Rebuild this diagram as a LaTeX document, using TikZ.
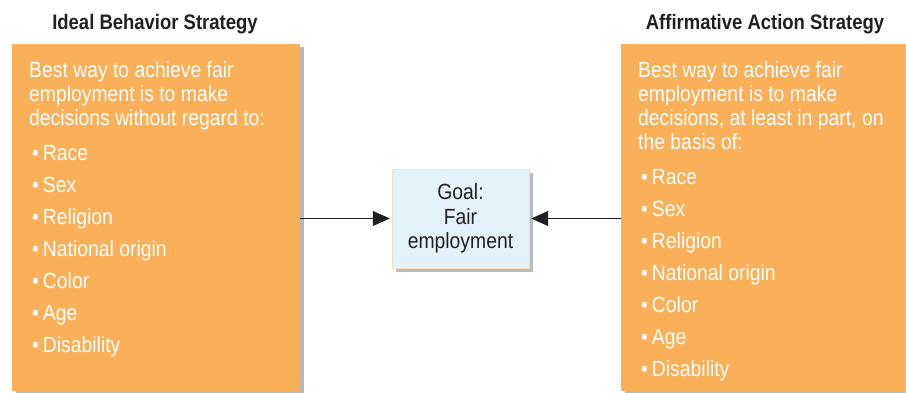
\documentclass[tikz,border=0pt]{standalone}
\usepackage{fontspec}
\setmainfont{Liberation Sans}[FakeStretch=0.88]
\usetikzlibrary{positioning,arrows.meta,shadows}
\definecolor{stratorange}{RGB}{249,176,89}
\definecolor{goalblue}{RGB}{227,243,251}
\definecolor{goalline}{RGB}{250,222,192}
\definecolor{titlegray}{RGB}{35,31,32}
\begin{document}
\begin{tikzpicture}[
       x=1pt, y=-1pt,
       stratbox/.style={rectangle, fill=stratorange, minimum width=288pt, minimum height=347pt, inner sep=0pt, anchor=north west,
         drop shadow={shadow xshift=4pt, shadow yshift=-3pt, fill=black!45, opacity=0.6}},
       boxtext/.style={anchor=north west, inner sep=0pt, align=left, text=white, font=\fontsize{22}{24}\selectfont},
       title/.style={anchor=base, inner sep=0pt, text=titlegray, font=\fontsize{21}{24}\selectfont\bfseries},
       goalbox/.style={rectangle, draw=goalline, thin, fill=goalblue, minimum width=137pt, minimum height=99pt, align=center,
         font=\fontsize{22}{24.5}\selectfont, text=titlegray,
         drop shadow={shadow xshift=4pt, shadow yshift=-4pt, fill=black!45, opacity=0.6}},
       arrow/.style={-{Triangle[length=17pt,width=15pt]}, semithick, titlegray, shorten >=2pt}
   ]
   \useasboundingbox (0,0) rectangle (906,393);
   \node[stratbox] (leftbox) at (12,44) {};
   \node[stratbox, minimum width=290pt] (rightbox) at (621,44) {};
   \node[title] (lefttitle) at (155,30) {Ideal Behavior Strategy};
   \node[title] (righttitle) at (765,30) {Affirmative Action Strategy};
   \node[goalbox] (goal) at (460.5,218.5) {Goal:\\Fair\\employment};

   \node[boxtext] (lefttext) at (29,61.5) {Best way to achieve fair\\employment is to make\\decisions without regard to:\\[11pt]
     \hspace{3pt}\textbullet\hspace{4pt}Race\\[8pt]
     \hspace{3pt}\textbullet\hspace{4pt}Sex\\[8pt]
     \hspace{3pt}\textbullet\hspace{4pt}Religion\\[8pt]
     \hspace{3pt}\textbullet\hspace{4pt}National origin\\[8pt]
     \hspace{3pt}\textbullet\hspace{4pt}Color\\[8pt]
     \hspace{3pt}\textbullet\hspace{4pt}Age\\[8pt]
     \hspace{3pt}\textbullet\hspace{4pt}Disability};
   \node[boxtext] (righttext) at (638,61.5) {Best way to achieve fair\\employment is to make\\decisions, at least in part, on\\the basis of:\\[11pt]
     \hspace{3pt}\textbullet\hspace{4pt}Race\\[8pt]
     \hspace{3pt}\textbullet\hspace{4pt}Sex\\[8pt]
     \hspace{3pt}\textbullet\hspace{4pt}Religion\\[8pt]
     \hspace{3pt}\textbullet\hspace{4pt}National origin\\[8pt]
     \hspace{3pt}\textbullet\hspace{4pt}Color\\[8pt]
     \hspace{3pt}\textbullet\hspace{4pt}Age\\[8pt]
     \hspace{3pt}\textbullet\hspace{4pt}Disability};

   \draw[arrow] (leftbox.east |- goal) -- (goal.west);
   \draw[arrow] (rightbox.west |- goal) -- (goal.east);
\end{tikzpicture}
\end{document}
